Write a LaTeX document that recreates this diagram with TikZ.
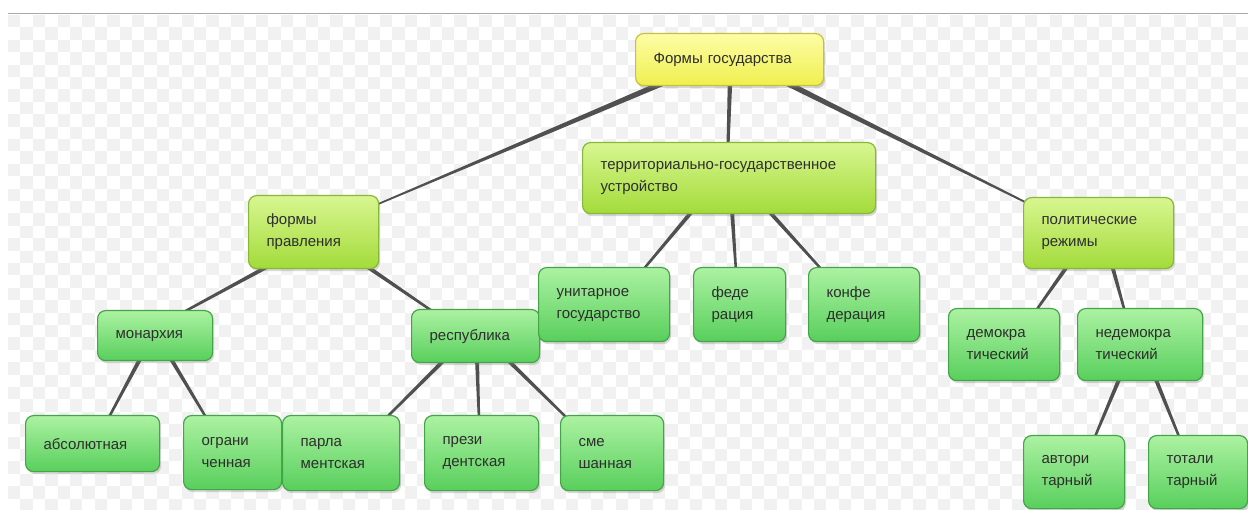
\documentclass[tikz,border=0pt]{standalone}
\usepackage{fontspec}
\setmainfont{Liberation Sans}
\usetikzlibrary{calc,shadows}
\pgfdeclarelayer{bgl}
\pgfdeclarelayer{lines}
\pgfsetlayers{bgl,lines,main}
\definecolor{txt}{HTML}{2E2E2E}
\definecolor{linec}{HTML}{505050}
\definecolor{leaftop}{HTML}{ACF2A2}
\definecolor{leafbot}{HTML}{58CF5C}
\definecolor{leafdraw}{HTML}{44A548}
\definecolor{midtop}{HTML}{D8F690}
\definecolor{midbot}{HTML}{A3DB3A}
\definecolor{middraw}{HTML}{86B83A}
\definecolor{roottop}{HTML}{FDFDA6}
\definecolor{rootbot}{HTML}{EFEF4E}
\definecolor{rootdraw}{HTML}{C8C040}
\definecolor{checkc}{HTML}{F1F1F1}
\definecolor{topline}{HTML}{A8A8A8}
\tikzset{
  box/.style={anchor=north west, rounded corners=8pt, line width=1.2pt,
    inner xsep=18pt, inner ysep=2pt, align=left, text=txt,
    font=\fontsize{15}{22}\selectfont,
    drop shadow={opacity=0.3, shadow xshift=1.5pt, shadow yshift=-2.5pt}},
  leaf/.style={box, draw=leafdraw, top color=leaftop, bottom color=leafbot},
  mid/.style={box, draw=middraw, top color=midtop, bottom color=midbot},
  rootbox/.style={box, draw=rootdraw, top color=roottop, bottom color=rootbot},
  checker/.style={fill=checkc},
}
% tapered connector between two named coordinates
\newcommand\taper[4]{%
  \fill[linec] ($(#1)!#3!90:(#2)$) -- ($(#1)!#3!-90:(#2)$)
     -- ($(#2)!#4!90:(#1)$) -- ($(#2)!#4!-90:(#1)$) -- cycle;}
\begin{document}
\begin{tikzpicture}[x=1pt,y=-1pt]
\useasboundingbox (0,0) rectangle (1248,510);
% background and checker
\begin{pgfonlayer}{bgl}
\fill[white] (0,0) rectangle (1248,510);
\begin{scope}
\clip (8,15) rectangle (1248,510);
\foreach \j in {0,...,39}{
  \pgfmathtruncatemacro\s{mod(\j,2)}
  \foreach \i in {0,2,...,100}{
    \fill[checker] ({8+(\i+\s)*12.4},{15+\j*12.4}) rectangle +(12.4,12.4);
  }
}
\end{scope}
\draw[topline, line width=1pt] (8,14) -- (1248,14);
\end{pgfonlayer}

% nodes
\node[rootbox, text width=152pt, minimum height=52pt] (root) at (635,33) {Формы государства};
\node[mid, text width=257pt, minimum height=71pt] (terr) at (582,142) {территориально-государственное\\устройство};
\node[mid, text width=94pt, minimum height=73pt] (fp) at (248,195) {формы\\правления};
\node[mid, text width=114pt, minimum height=71pt] (pol) at (1023,197) {политические\\режимы};
\node[leaf, text width=79pt, minimum height=50pt] (mon) at (97,310) {монархия};
\node[leaf, text width=92pt, minimum height=53pt] (resp) at (411,309) {республика};
\node[leaf, text width=95pt, minimum height=74pt] (unit) at (538,267) {унитарное\\государство};
\node[leaf, text width=56pt, minimum height=74pt] (fed) at (693,267) {феде\\рация};
\node[leaf, text width=75pt, minimum height=74pt] (konf) at (808,267) {конфе\\дерация};
\node[leaf, text width=75pt, minimum height=72pt] (dem) at (948,308) {демокра\\тический};
\node[leaf, text width=89pt, minimum height=72pt] (nedem) at (1077,308) {недемокра\\тический};
\node[leaf, text width=98pt, minimum height=56pt] (abs) at (25,415) {абсолютная};
\node[leaf, text width=62pt, minimum height=74pt] (ogr) at (183,415) {ограни\\ченная};
\node[leaf, text width=81pt, minimum height=75pt] (parl) at (282,415) {парла\\ментская};
\node[leaf, text width=78pt, minimum height=75pt] (prez) at (424,415) {прези\\дентская};
\node[leaf, text width=67pt, minimum height=75pt] (sme) at (560,415) {сме\\шанная};
\node[leaf, text width=65pt, minimum height=73pt] (avt) at (1023,435) {автори\\тарный};
\node[leaf, text width=63pt, minimum height=73pt] (tot) at (1148,435) {тотали\\тарный};

% connector end points
\coordinate (a1) at ($(root.south west)+(30,-4)$);
\coordinate (b1) at ($(fp.north east)+(-8,12)$);
\coordinate (a2) at ($(root.south west)+(95,-4)$);
\coordinate (b2) at ($(terr.north west)+(146,4)$);
\coordinate (a3) at ($(root.south west)+(150,-4)$);
\coordinate (b3) at ($(pol.north west)+(10,9)$);
\coordinate (a4) at ($(fp.south west)+(22,-4)$);
\coordinate (b4) at ($(mon.north west)+(83,4)$);
\coordinate (a5) at ($(fp.south west)+(117,-4)$);
\coordinate (b5) at ($(resp.north west)+(24,4)$);
\coordinate (a6) at ($(mon.south west)+(44,-4)$);
\coordinate (b6) at ($(abs.north west)+(83,4)$);
\coordinate (a7) at ($(mon.south west)+(73,-4)$);
\coordinate (b7) at ($(ogr.north west)+(24,4)$);
\coordinate (a8) at ($(resp.south west)+(34,-4)$);
\coordinate (b8) at ($(parl.north west)+(103,4)$);
\coordinate (a9) at ($(resp.south west)+(66,-4)$);
\coordinate (b9) at ($(prez.north west)+(55,4)$);
\coordinate (a10) at ($(resp.south west)+(96,-4)$);
\coordinate (b10) at ($(sme.north west)+(8,4)$);
\coordinate (a11) at ($(terr.south west)+(111,-4)$);
\coordinate (b11) at ($(unit.north west)+(104,4)$);
\coordinate (a12) at ($(terr.south west)+(150,-4)$);
\coordinate (b12) at ($(fed.north west)+(43,4)$);
\coordinate (a13) at ($(terr.south west)+(186,-4)$);
\coordinate (b13) at ($(konf.north west)+(15,4)$);
\coordinate (a14) at ($(pol.south west)+(45,-4)$);
\coordinate (b14) at ($(dem.north west)+(87,4)$);
\coordinate (a15) at ($(pol.south west)+(89,-4)$);
\coordinate (b15) at ($(nedem.north west)+(48,4)$);
\coordinate (a16) at ($(nedem.south west)+(43,-4)$);
\coordinate (b16) at ($(avt.north west)+(71,4)$);
\coordinate (a17) at ($(nedem.south west)+(78,-4)$);
\coordinate (b17) at ($(tot.north west)+(32,4)$);

\begin{pgfonlayer}{lines}
\taper{a1}{b1}{2.8pt}{0.8pt}
\taper{a2}{b2}{2.2pt}{1.5pt}
\taper{a3}{b3}{2.8pt}{0.9pt}
\foreach \k in {4,...,17}{\taper{a\k}{b\k}{2.0pt}{1.2pt}}
\end{pgfonlayer}
\end{tikzpicture}
\end{document}
